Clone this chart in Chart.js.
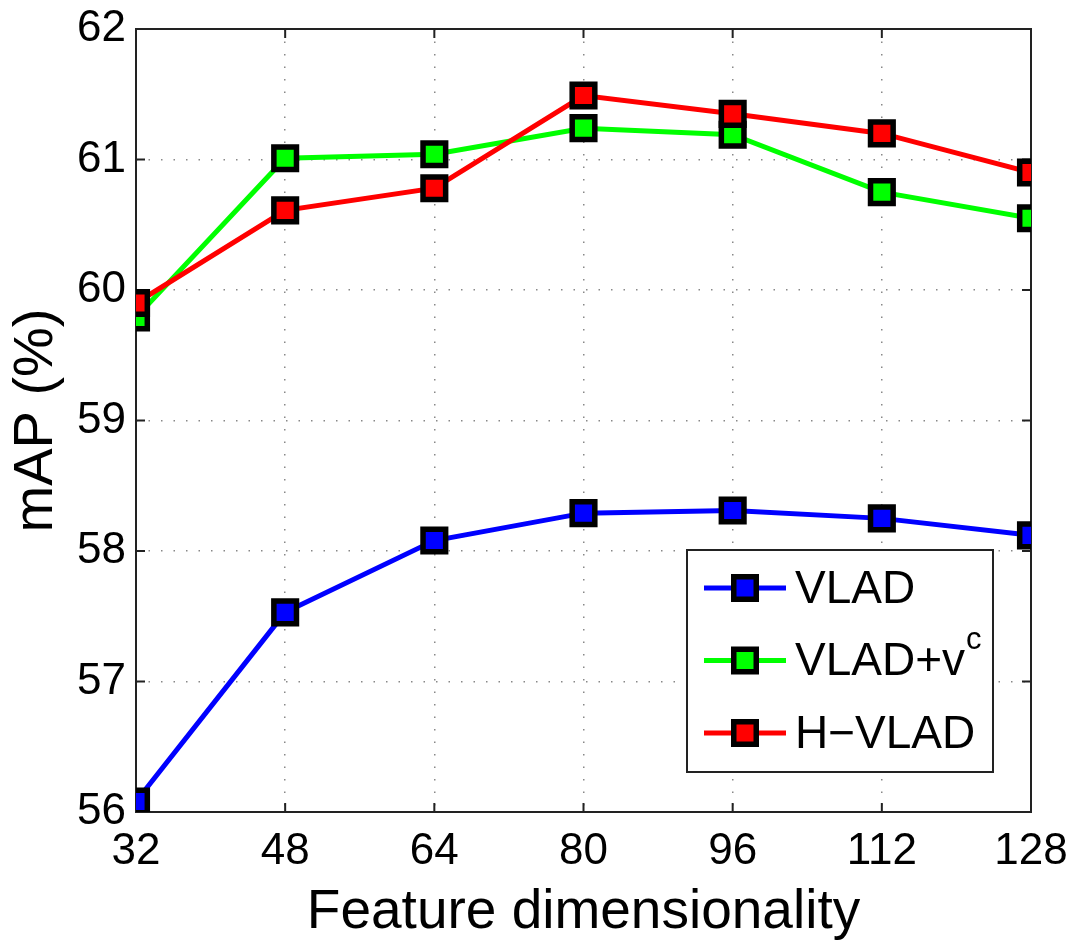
<!DOCTYPE html>
<html>
<head>
<meta charset="utf-8">
<script src="https://cdn.jsdelivr.net/npm/chart.js@4.4.1/dist/chart.umd.min.js"></script>
<style>
  body { margin: 0; background: #fff; }
  #wrap { width: 1071px; height: 940px; }
</style>
</head>
<body>
<div id="wrap"><canvas id="mapChart" width="1071" height="940"></canvas></div>
<script>
// Feature dimensionality vs. mAP for the three encodings
const dims = [32, 48, 64, 80, 96, 112, 128];
const yTicks = [56, 57, 58, 59, 60, 61, 62];
const vlad = [56.08, 57.53, 58.08, 58.29, 58.31, 58.25, 58.12];
const vladVc = [59.79, 61.01, 61.04, 61.24, 61.19, 60.75, 60.55];
const hVlad = [59.90, 60.61, 60.78, 61.49, 61.35, 61.20, 60.90];

const FONT = "'Liberation Sans', Arial, Helvetica, sans-serif";

function series(label, values, color, order) {
    return {
        label: label,
        data: dims.map((d, i) => ({ x: d, y: values[i] })),
        borderColor: color,
        backgroundColor: color,
        borderWidth: 5,
        pointStyle: 'rect',
        pointRadius: 16,
        pointBorderWidth: 5.5,
        pointBorderColor: '#000',
        pointBackgroundColor: color,
        tension: 0,
        order: order
    };
}

// Box around the plot plus small inward tick marks on all four sides
const boxPlugin = {
    id: 'box',
    beforeDatasetsDraw(chart) {
        const { ctx, chartArea: a, scales } = chart;
        ctx.save();
        ctx.strokeStyle = '#222';
        ctx.lineWidth = 2;
        ctx.strokeRect(a.left, a.top, a.right - a.left, a.bottom - a.top);
        ctx.beginPath();
        const tl = 9;
        dims.forEach(d => {
            const x = scales.x.getPixelForValue(d);
            ctx.moveTo(x, a.bottom); ctx.lineTo(x, a.bottom - tl);
            ctx.moveTo(x, a.top); ctx.lineTo(x, a.top + tl);
        });
        yTicks.forEach(v => {
            const y = scales.y.getPixelForValue(v);
            ctx.moveTo(a.left, y); ctx.lineTo(a.left + tl, y);
            ctx.moveTo(a.right, y); ctx.lineTo(a.right - tl, y);
        });
        ctx.stroke();
        ctx.restore();
    }
};

// Legend box in the lower right: line + square marker + label
const legendPlugin = {
    id: 'boxLegend',
    afterDraw(chart) {
        const { ctx, chartArea: a } = chart;
        const w = 306, h = 222;
        const x0 = a.right - 38 - w, y0 = a.bottom - 40 - h;
        ctx.save();
        ctx.fillStyle = '#fff';
        ctx.fillRect(x0, y0, w, h);
        ctx.strokeStyle = '#222';
        ctx.lineWidth = 2;
        ctx.strokeRect(x0, y0, w, h);

        const ds = chart.data.datasets;
        ds.forEach((d, i) => {
            const cy = y0 + 38 + i * 72.5;
            ctx.strokeStyle = d.borderColor;
            ctx.lineWidth = 5;
            ctx.beginPath();
            ctx.moveTo(x0 + 17, cy);
            ctx.lineTo(x0 + 99, cy);
            ctx.stroke();
            // marker
            ctx.fillStyle = '#000';
            ctx.fillRect(x0 + 58 - 14, cy - 14, 28, 28);
            ctx.fillStyle = d.borderColor;
            ctx.fillRect(x0 + 58 - 8.5, cy - 8.5, 17, 17);
            // label, "^" marks a superscript part
            const parts = d.label.split('^');
            ctx.fillStyle = '#000';
            ctx.textBaseline = 'middle';
            ctx.textAlign = 'left';
            ctx.font = '46px ' + FONT;
            ctx.fillText(parts[0], x0 + 108, cy + 2);
            if (parts[1]) {
                const tw = ctx.measureText(parts[0]).width;
                ctx.font = '31px ' + FONT;
                ctx.fillText(parts[1], x0 + 108 + tw + 1, cy - 20);
            }
        });
        ctx.restore();
    }
};

new Chart(document.getElementById('mapChart').getContext('2d'), {
    type: 'line',
    data: {
        datasets: [
            series('VLAD', vlad, '#0000ff', 2),
            series('VLAD+v^c', vladVc, '#00ff00', 1),
            series('H\u2212VLAD', hVlad, '#ff0000', 0)
        ]
    },
    options: {
        responsive: false,
        animation: false,
        layout: { padding: { top: 29, right: 40, left: 0, bottom: 0 } },
        plugins: {
            legend: { display: false },
            tooltip: { enabled: false }
        },
        scales: {
            x: {
                type: 'linear',
                min: 32,
                max: 128,
                afterFit: s => {
                    s.height = 128;
                    s.paddingLeft = 0;
                    s.paddingRight = 0;
                },
                afterBuildTicks: s => { s.ticks = dims.map(v => ({ value: v })); },
                ticks: {
                    color: '#000',
                    padding: 13,
                    font: { family: FONT, size: 44 }
                },
                grid: { color: '#888', lineWidth: 1.5, drawTicks: false },
                border: { display: false, dash: [1.5, 11] },
                title: {
                    display: true,
                    text: 'Feature dimensionality',
                    color: '#000',
                    padding: { top: 0, bottom: 0 },
                    font: { family: FONT, size: 55, lineHeight: 1 }
                }
            },
            y: {
                min: 56,
                max: 62,
                afterFit: s => {
                    s.width = 136;
                    s.paddingTop = 0;
                    s.paddingBottom = 0;
                },
                afterBuildTicks: s => { s.ticks = yTicks.map(v => ({ value: v })); },
                ticks: {
                    color: '#000',
                    padding: 10,
                    font: { family: FONT, size: 44 }
                },
                grid: { color: '#888', lineWidth: 1.5, drawTicks: false },
                border: { display: false, dash: [1.5, 11] },
                title: {
                    display: true,
                    text: 'mAP (%)',
                    color: '#000',
                    padding: { top: 9, bottom: 0 },
                    font: { family: FONT, size: 56, lineHeight: 1 }
                }
            }
        }
    },
    plugins: [boxPlugin, legendPlugin]
});
</script>
</body>
</html>
